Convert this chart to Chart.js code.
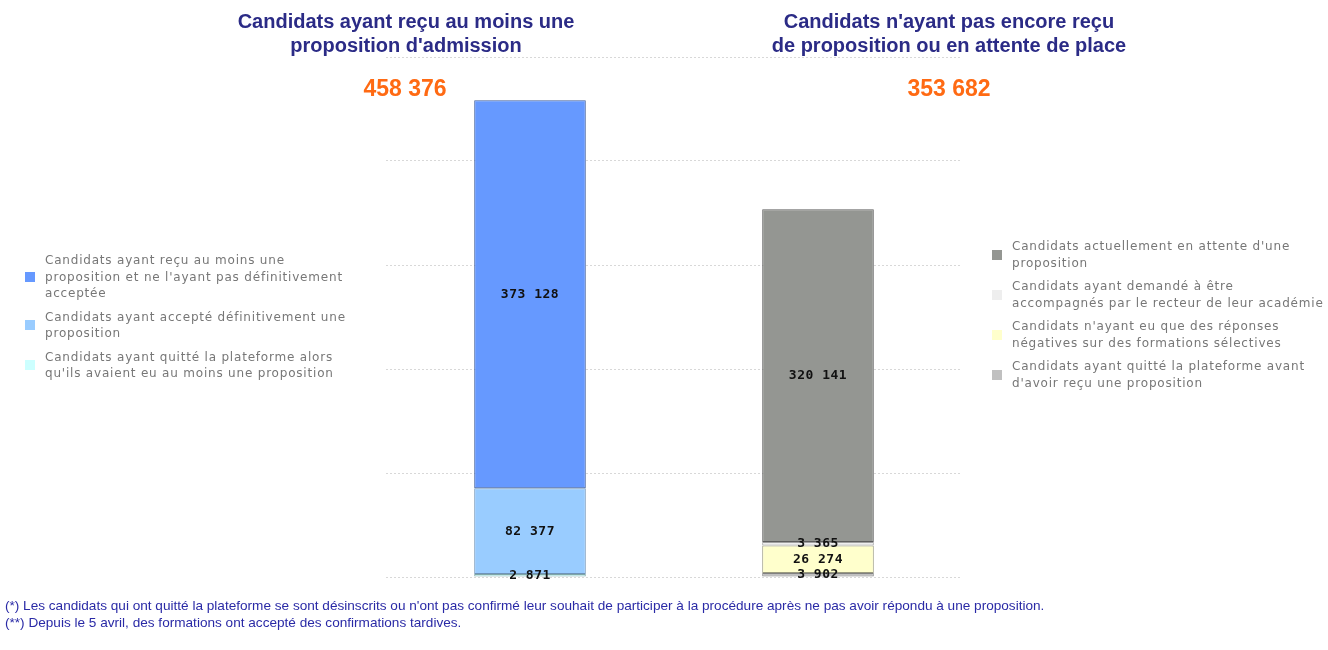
<!DOCTYPE html>
<html>
<head>
<meta charset="utf-8">
<script src="https://cdn.jsdelivr.net/npm/chart.js@4/dist/chart.umd.min.js"></script>
<style>
  body { margin: 0; background: #fff; }
  #wrap { position: relative; width: 1328px; height: 650px; overflow: hidden; }
  #chart { position: absolute; left: 0; top: 0; }
  .title { position: absolute; top: 9px; width: 500px; text-align: center; font: bold 20px "Liberation Sans", Arial, sans-serif; color: #2b2b86; line-height: 24px; }
  .total { position: absolute; top: 75px; width: 200px; text-align: center; font: bold 23px "Liberation Sans", Arial, sans-serif; color: #ff6a13; }
  .legend { position: absolute; font: 12px "DejaVu Sans", sans-serif; letter-spacing: 0.8px; color: #777; line-height: 16.5px; }
  .legend .item { display: flex; align-items: center; margin-bottom: 7px; }
  .legend .txt { white-space: pre; }
  .legend .sw { width: 10px; height: 10px; flex: none; margin-right: 10px; }
  .notes { position: absolute; left: 5px; top: 597px; font: 13.6px "Liberation Sans", Arial, sans-serif; color: #2a2aa6; line-height: 17px; white-space: nowrap; }
</style>
</head>
<body>
<div id="wrap">
  <canvas id="chart" width="1328" height="650"></canvas>
  <div class="title" style="left:156px">Candidats ayant reçu au moins une<br>proposition d'admission</div>
  <div class="title" style="left:699px">Candidats n'ayant pas encore reçu<br>de proposition ou en attente de place</div>
  <div class="total" id="total-left" style="left:305px"></div>
  <div class="total" id="total-right" style="left:849px"></div>
  <div class="legend" id="legend-left" style="left:25px; top:252px; width:340px"></div>
  <div class="legend" id="legend-right" style="left:992px; top:238px; width:336px"></div>
  <div class="notes">(*) Les candidats qui ont quitté la plateforme se sont désinscrits ou n'ont pas confirmé leur souhait de participer à la procédure après ne pas avoir répondu à une proposition.<br>(**) Depuis le 5 avril, des formations ont accepté des confirmations tardives.</div>
</div>
<script>
const categories = ["recu", "attente"];

// left bar, bottom to top
const leftNames = [
  "Candidats ayant quitté la plateforme alors\nqu'ils avaient eu au moins une proposition",
  "Candidats ayant accepté définitivement une\nproposition",
  "Candidats ayant reçu au moins une\nproposition et ne l'ayant pas définitivement\nacceptée"
];
const leftValues = [2871, 82377, 373128];
const leftColors = ["#ccffff", "#99ccff", "#6699ff"];
const leftBorders = ["#7fa6a6", "#6f93b8", "#3f5f9c"];

// right bar, bottom to top
const rightNames = [
  "Candidats ayant quitté la plateforme avant\nd'avoir reçu une proposition",
  "Candidats n'ayant eu que des réponses\nnégatives sur des formations sélectives",
  "Candidats ayant demandé à être\naccompagnés par le recteur de leur académie",
  "Candidats actuellement en attente d'une\nproposition"
];
const rightValues = [3902, 26274, 3365, 320141];
const rightColors = ["#c0c0c0", "#ffffcc", "#eeeeee", "#949692"];
const rightBorders = ["#808080", "#9a9a80", "#a0a0a0", "#5e5e5e"];

const fmt = (n) => String(n).replace(/\B(?=(\d{3})+(?!\d))/g, " ");

const datasets = [];
leftValues.forEach((v, i) => {
  datasets.push({ label: leftNames[i], data: [v, null], backgroundColor: leftColors[i], borderColor: leftBorders[i], borderWidth: 1, borderSkipped: false });
});
rightValues.forEach((v, i) => {
  datasets.push({ label: rightNames[i], data: [null, v], backgroundColor: rightColors[i], borderColor: rightBorders[i], borderWidth: 1, borderSkipped: false });
});

document.getElementById("total-left").textContent = fmt(leftValues.reduce((a, b) => a + b, 0));
document.getElementById("total-right").textContent = fmt(rightValues.reduce((a, b) => a + b, 0));

const fillLegend = (id, names, colors) => {
  const box = document.getElementById(id);
  // legend lists top segment first
  for (let i = names.length - 1; i >= 0; i--) {
    const item = document.createElement("div");
    item.className = "item";
    item.innerHTML = `<span class="sw" style="background:${colors[i]}"></span><span class="txt"></span>`;
    item.lastChild.textContent = names[i];
    box.appendChild(item);
  }
};
fillLegend("legend-left", leftNames, leftColors);
fillLegend("legend-right", rightNames, rightColors);

const segmentLabels = {
  id: "segmentLabels",
  afterDatasetsDraw(chart) {
    const ctx = chart.ctx;
    ctx.save();
    ctx.font = 'bold 13px "DejaVu Sans Mono", monospace';
    ctx.letterSpacing = "0.5px";
    ctx.fillStyle = "#111";
    ctx.textAlign = "center";
    ctx.textBaseline = "middle";
    chart.data.datasets.forEach((ds, di) => {
      chart.getDatasetMeta(di).data.forEach((el, j) => {
        const v = ds.data[j];
        if (v == null) return;
        ctx.fillText(fmt(v), el.x, (el.y + el.base) / 2);
      });
    });
    ctx.restore();
  }
};

new Chart(document.getElementById("chart"), {
  type: "bar",
  data: { labels: categories, datasets },
  options: {
    responsive: false,
    animation: false,
    layout: { padding: { left: 386, right: 366, top: 57, bottom: 73 } },
    barPercentage: 0.3875,
    categoryPercentage: 1,
    plugins: { legend: { display: false }, tooltip: { enabled: false } },
    scales: {
      x: { stacked: true, display: false },
      y: {
        stacked: true,
        min: 0,
        max: 500000,
        ticks: { display: false, stepSize: 100000 },
        border: { display: false, dash: [2, 2] },
        grid: { color: "#d8d8d8", tickLength: 0, drawTicks: false }
      }
    }
  },
  plugins: [segmentLabels]
});
</script>
</body>
</html>
